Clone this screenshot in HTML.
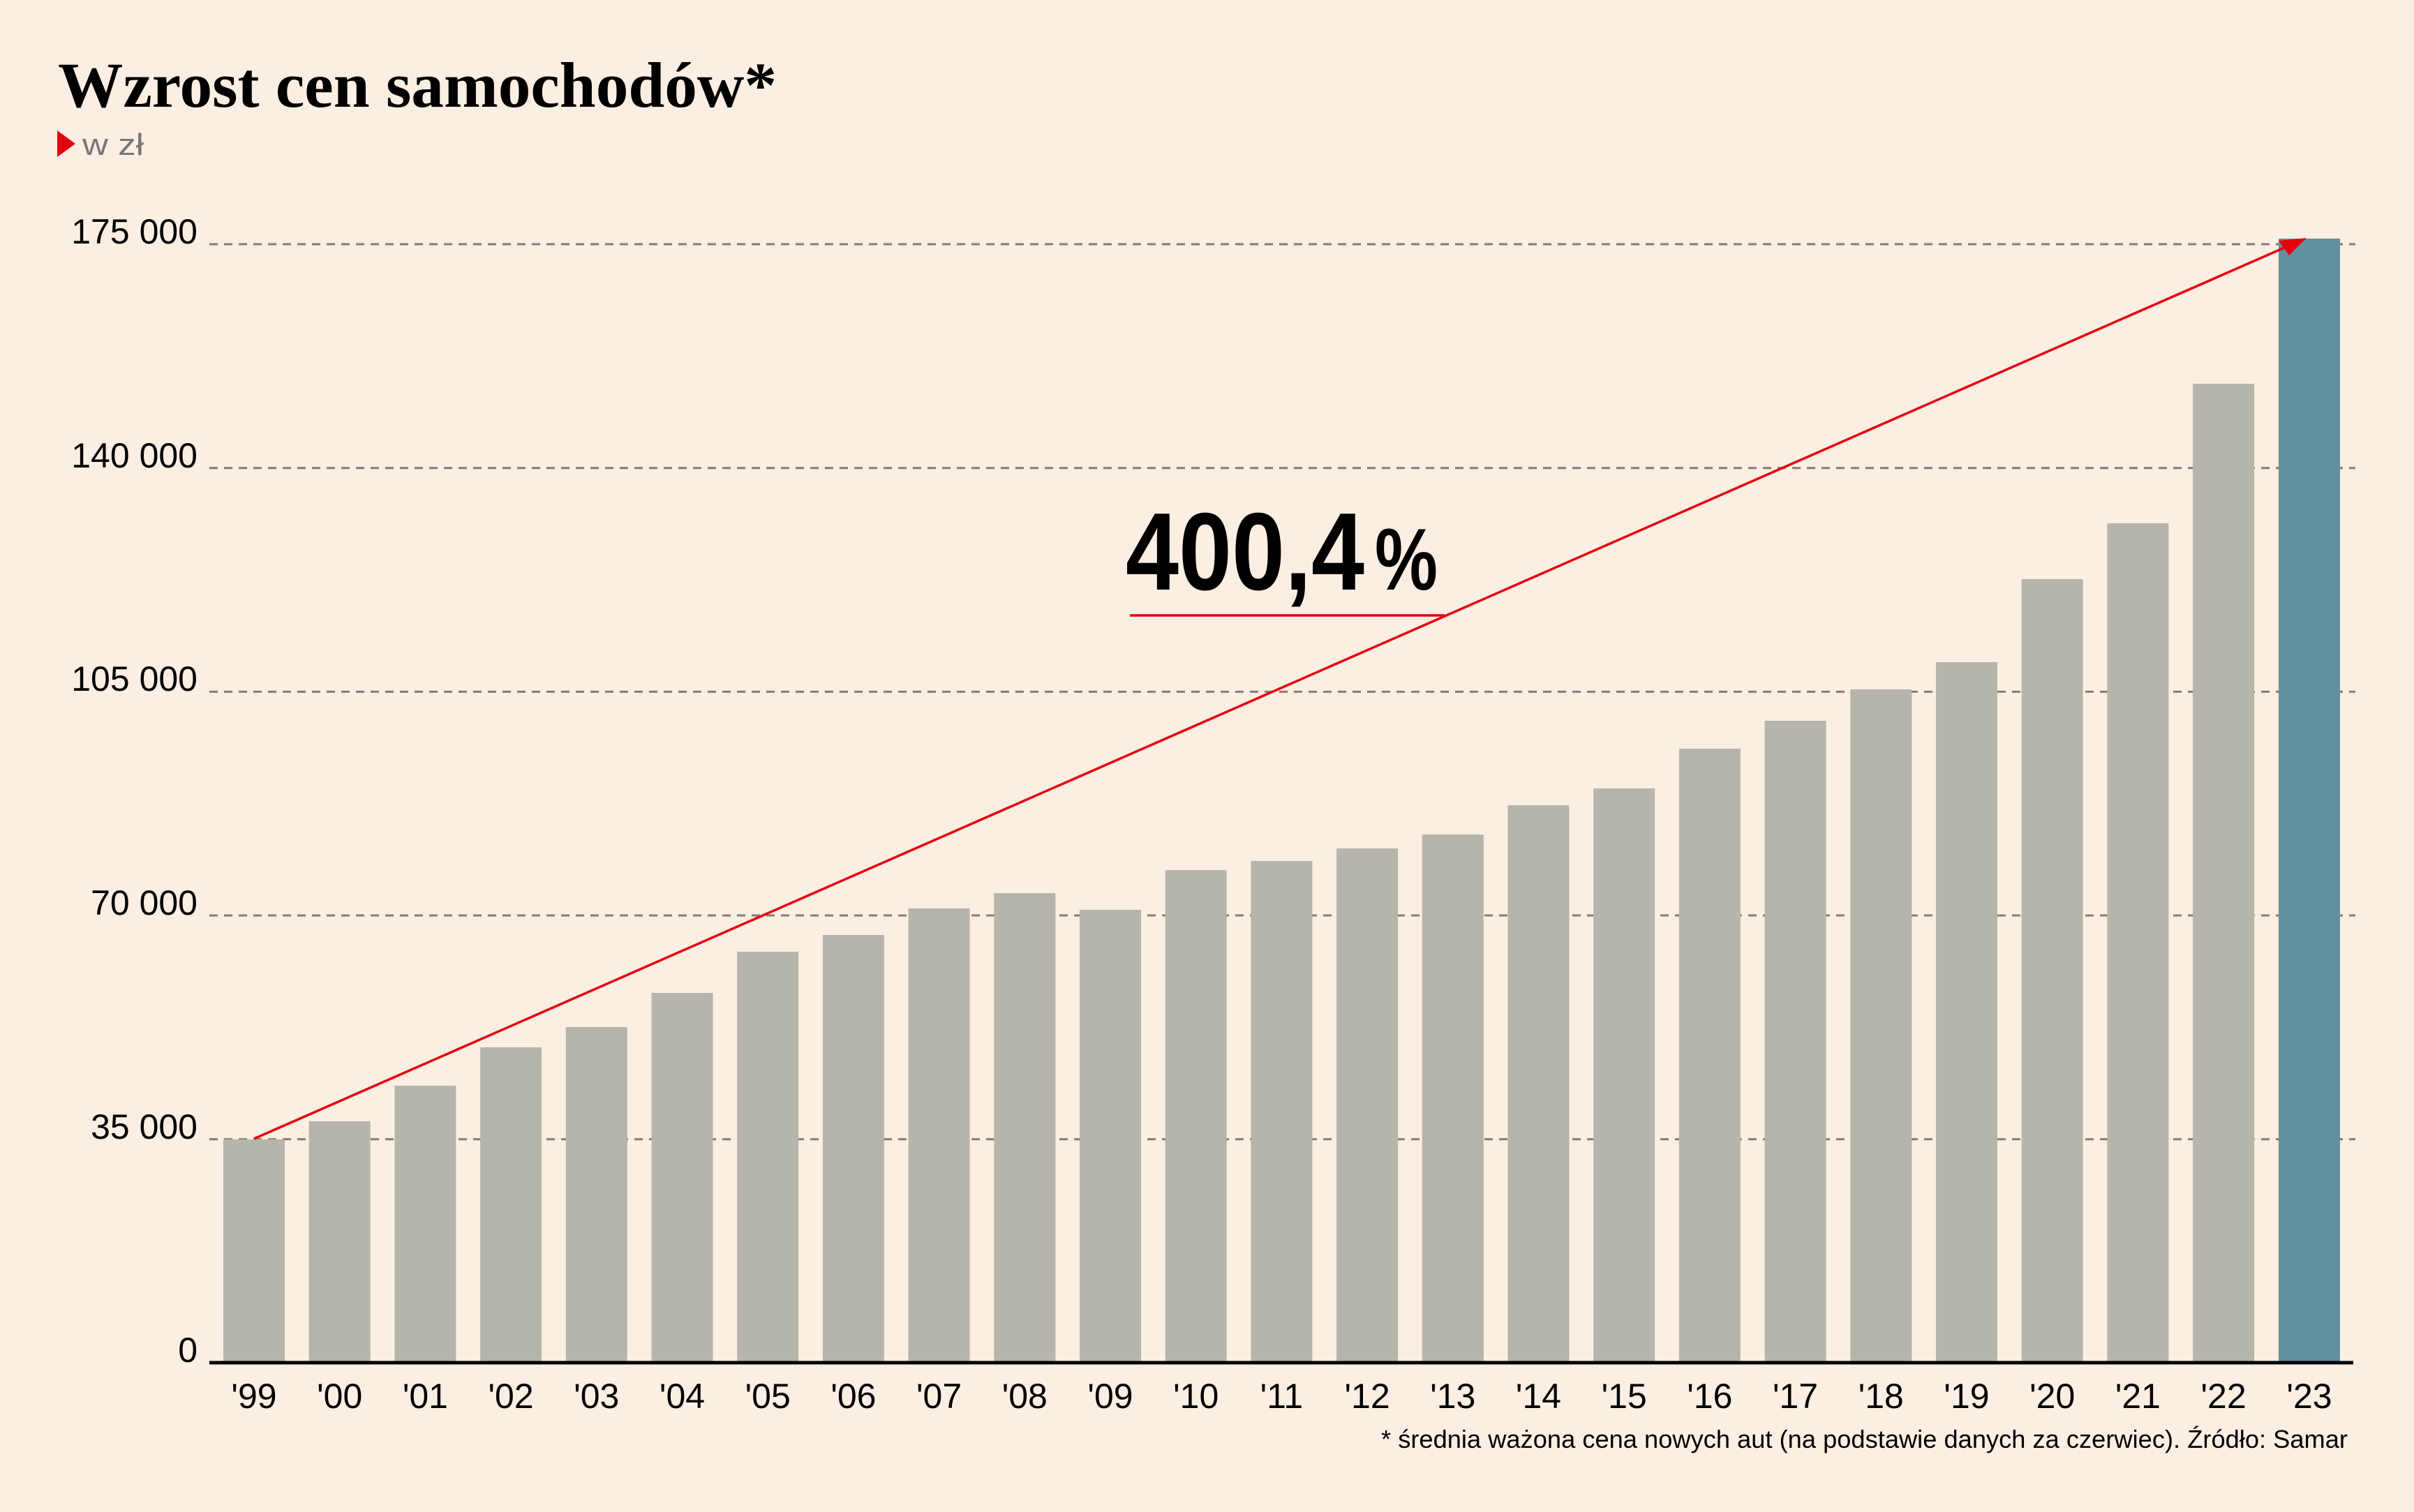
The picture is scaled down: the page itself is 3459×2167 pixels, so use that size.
<!DOCTYPE html>
<html><head><meta charset="utf-8"><style>
html,body{margin:0;padding:0;background:#fbeee2;}
svg{display:block;}
</style></head><body>
<svg width="3459" height="2167" viewBox="0 0 3459 2167" xmlns="http://www.w3.org/2000/svg">
<rect width="3459" height="2167" fill="#fbeee2"/>
<text x="83" y="153" font-family="Liberation Serif, serif" font-weight="bold" font-size="92" textLength="1030" lengthAdjust="spacingAndGlyphs" fill="#000">Wzrost cen samochodów*</text>
<polygon points="82,187 108,206 82,225" fill="#e4000f"/>
<text x="118" y="222" font-family="Liberation Sans, sans-serif" font-size="44" fill="#777" textLength="88" lengthAdjust="spacingAndGlyphs">w zł</text>
<g stroke="#877b73" stroke-width="3" stroke-dasharray="12 9">
<line x1="300" y1="350" x2="3375" y2="350"/>
<line x1="300" y1="670.7" x2="3375" y2="670.7"/>
<line x1="300" y1="991.4" x2="3375" y2="991.4"/>
<line x1="300" y1="1312" x2="3375" y2="1312"/>
<line x1="300" y1="1632.8" x2="3375" y2="1632.8"/>
</g>
<g font-family="Liberation Sans, sans-serif" font-size="50" fill="#000" text-anchor="end">
<text x="283" y="349">175 000</text>
<text x="283" y="670">140 000</text>
<text x="283" y="990">105 000</text>
<text x="283" y="1311">70 000</text>
<text x="283" y="1632">35 000</text>
<text x="283" y="1952">0</text>
</g>
<g fill="#b5b5ab">
<rect x="320" y="1633" width="88" height="319"/>
<rect x="442.7" y="1607" width="88" height="345"/>
<rect x="565.4" y="1556" width="88" height="396"/>
<rect x="688.1" y="1501" width="88" height="451"/>
<rect x="810.8" y="1472" width="88" height="480"/>
<rect x="933.5" y="1423" width="88" height="529"/>
<rect x="1056.2" y="1364" width="88" height="588"/>
<rect x="1178.9" y="1340" width="88" height="612"/>
<rect x="1301.6" y="1302" width="88" height="650"/>
<rect x="1424.3" y="1280" width="88" height="672"/>
<rect x="1547" y="1304" width="88" height="648"/>
<rect x="1669.7" y="1247" width="88" height="705"/>
<rect x="1792.4" y="1234" width="88" height="718"/>
<rect x="1915.1" y="1216" width="88" height="736"/>
<rect x="2037.8" y="1196" width="88" height="756"/>
<rect x="2160.5" y="1154" width="88" height="798"/>
<rect x="2283.2" y="1130" width="88" height="822"/>
<rect x="2405.9" y="1073" width="88" height="879"/>
<rect x="2528.6" y="1033" width="88" height="919"/>
<rect x="2651.3" y="988" width="88" height="964"/>
<rect x="2774" y="949" width="88" height="1003"/>
<rect x="2896.7" y="830" width="88" height="1122"/>
<rect x="3019.4" y="750" width="88" height="1202"/>
<rect x="3142.1" y="550" width="88" height="1402"/>
</g>
<rect x="3265" y="342" width="88" height="1610" fill="#6390a0"/>
<line x1="300" y1="1953" x2="3372" y2="1953" stroke="#000" stroke-width="5"/>
<g font-family="Liberation Sans, sans-serif" font-size="50" fill="#000" text-anchor="middle">
<text x="364" y="2018">'99</text><text x="486.7" y="2018">'00</text><text x="609.4" y="2018">'01</text><text x="732.1" y="2018">'02</text><text x="854.8" y="2018">'03</text><text x="977.5" y="2018">'04</text><text x="1100.2" y="2018">'05</text><text x="1222.9" y="2018">'06</text><text x="1345.6" y="2018">'07</text><text x="1468.3" y="2018">'08</text><text x="1591" y="2018">'09</text><text x="1713.7" y="2018">'10</text><text x="1836.4" y="2018">'11</text><text x="1959.1" y="2018">'12</text><text x="2081.8" y="2018">'13</text><text x="2204.5" y="2018">'14</text><text x="2327.2" y="2018">'15</text><text x="2449.9" y="2018">'16</text><text x="2572.6" y="2018">'17</text><text x="2695.3" y="2018">'18</text><text x="2818" y="2018">'19</text><text x="2940.7" y="2018">'20</text><text x="3063.4" y="2018">'21</text><text x="3186.1" y="2018">'22</text><text x="3309" y="2018">'23</text>
</g>
<text x="3364" y="2075" font-family="Liberation Sans, sans-serif" font-size="36" fill="#000" text-anchor="end" textLength="1385" lengthAdjust="spacingAndGlyphs">* średnia ważona cena nowych aut (na podstawie danych za czerwiec). Źródło: Samar</text>
<line x1="364" y1="1632" x2="3280" y2="352" stroke="#e4000f" stroke-width="3.5"/>
<polygon points="3305,341 3265,345 3280,366" fill="#e4000f"/>
<line x1="1619" y1="882" x2="2070" y2="882" stroke="#e4000f" stroke-width="3.5"/>
<text x="1613" y="845" font-family="Liberation Sans, sans-serif" font-weight="bold" font-size="158" fill="#000" textLength="342" lengthAdjust="spacingAndGlyphs">400,4</text>
<text x="1970" y="845" font-family="Liberation Sans, sans-serif" font-weight="bold" font-size="125" fill="#000" textLength="90" lengthAdjust="spacingAndGlyphs">%</text>
</svg>
</body></html>
